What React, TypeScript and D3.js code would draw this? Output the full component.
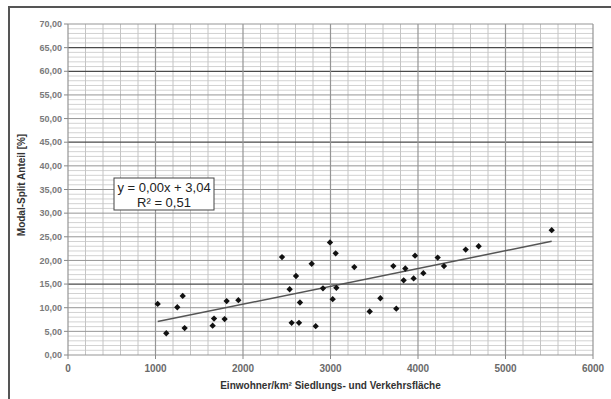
import React from 'react';
import * as d3 from 'd3';

// Einwohner/km² (x) vs Modal-Split Anteil in % (y)
const density = [
  1025, 1123, 1249, 1311, 1333, 1653, 1669, 1790, 1813, 1947,
  2446, 2533, 2556, 2606, 2640, 2651, 2785, 2831, 2914, 2994,
  3025, 3059, 3067, 3272, 3448, 3570, 3718, 3752, 3836, 3855,
  3950, 3966, 4061, 4225, 4297, 4545, 4693, 5528,
];
const modalSplit = [
  10.8, 4.6, 10.1, 12.5, 5.7, 6.2, 7.7, 7.6, 11.4, 11.6,
  20.7, 13.9, 6.8, 16.7, 6.8, 11.1, 19.3, 6.1, 14.1, 23.8,
  11.8, 21.5, 14.2, 18.6, 9.2, 12.0, 18.8, 9.8, 15.8, 18.3,
  16.2, 21.0, 17.3, 20.6, 18.8, 22.3, 23.0, 26.4,
];

const xTicks = [0, 1000, 2000, 3000, 4000, 5000, 6000];
const yTicks = [0, 5, 10, 15, 20, 25, 30, 35, 40, 45, 50, 55, 60, 65, 70];
const yStrong = [15, 45, 60, 65];
const equationLines = ['y = 0,00x + 3,04', 'R² = 0,51'];
const xTitle = 'Einwohner/km² Siedlungs- und Verkehrsfläche';
const yTitle = 'Modal-Split Anteil [%]';

const W = 611;
const H = 399;
const plot = { left: 68, right: 593, top: 24, bottom: 355 };

export default function App() {
  const x = d3.scaleLinear().domain([0, 6000]).range([plot.left, plot.right]);
  const y = d3.scaleLinear().domain([0, 70]).range([plot.bottom, plot.top]);

  const points = density.map((d, i) => ({ x: d, y: modalSplit[i] }));

  // linear regression for the trend line
  const mx = d3.mean(points, p => p.x)!;
  const my = d3.mean(points, p => p.y)!;
  const sxy = d3.sum(points, p => (p.x - mx) * (p.y - my));
  const sxx = d3.sum(points, p => (p.x - mx) ** 2);
  const slope = sxy / sxx;
  const intercept = my - slope * mx;
  const [x0, x1] = d3.extent(density) as [number, number];
  const trend = d3.line<number>().x(v => x(v)).y(v => y(intercept + slope * v));

  // excel-like diamond: a square turned by 45deg
  const marker = d3.symbol().type(d3.symbolSquare).size(20)()!;
  const fmtY = (v: number) => d3.format('.2f')(v).replace('.', ',');

  const minorX = d3.range(0, 6001, 200).filter(v => v % 1000 !== 0);
  const minorY = d3.range(0, 71, 1).filter(v => v % 5 !== 0);

  return (
    <svg width={W} height={H} style={{ position: 'absolute', left: 0, top: 0, background: '#fff' }}
      fontFamily="Arial, 'Liberation Sans', sans-serif">
      {/* frame */}
      <path d={`M9,${H} V7 H${W}`} fill="none" stroke="#555" strokeWidth={2} />

      {/* minor grid */}
      {minorY.map(v => (
        <line key={'my' + v} x1={plot.left} x2={plot.right} y1={y(v)} y2={y(v)} stroke="#d2d2d2" strokeWidth={1} />
      ))}
      {minorX.map(v => (
        <line key={'mx' + v} x1={x(v)} x2={x(v)} y1={plot.top} y2={plot.bottom} stroke="#c4c4c4" strokeWidth={1} />
      ))}
      {/* major grid */}
      {yTicks.map(v => (
        <line key={'gy' + v} x1={plot.left} x2={plot.right} y1={y(v)} y2={y(v)}
          stroke={yStrong.includes(v) ? '#4a4a4a' : '#959595'} strokeWidth={yStrong.includes(v) ? 1.3 : 1} />
      ))}
      {xTicks.map(v => (
        <line key={'gx' + v} x1={x(v)} x2={x(v)} y1={plot.top} y2={plot.bottom} stroke="#959595" strokeWidth={1.2} />
      ))}

      {/* axis ticks + labels */}
      {yTicks.map(v => (
        <g key={'ty' + v}>
          <line x1={plot.left - 4} x2={plot.left} y1={y(v)} y2={y(v)} stroke="#888" />
          <text x={plot.left - 6} y={y(v)} dy="0.35em" textAnchor="end" fontSize={9} fontWeight="bold" fill="#7a7a7a">
            {fmtY(v)}
          </text>
        </g>
      ))}
      {xTicks.map(v => (
        <g key={'tx' + v}>
          <line x1={x(v)} x2={x(v)} y1={plot.bottom} y2={plot.bottom + 4} stroke="#888" />
          <text x={x(v)} y={372} textAnchor="middle" fontSize={10} fontWeight="bold" fill="#6a6a6a">
            {v}
          </text>
        </g>
      ))}

      {/* trend line */}
      <path d={trend([x0, x1])!} fill="none" stroke="#555" strokeWidth={1.5} />

      {/* points */}
      {points.map((p, i) => (
        <path key={i} d={marker} transform={`translate(${x(p.x)},${y(p.y)}) rotate(45)`} fill="#111" />
      ))}

      {/* equation box */}
      <rect x={114} y={178} width={100} height={32} fill="#fff" stroke="#444" strokeWidth={1} />
      {equationLines.map((t, i) => (
        <text key={t} x={164} y={192 + i * 15} textAnchor="middle" fontSize={13} fill="#222">{t}</text>
      ))}

      {/* axis titles */}
      <text x={(plot.left + plot.right) / 2} y={389} textAnchor="middle" fontSize={10} fontWeight="bold" fill="#333">
        {xTitle}
      </text>
      <text transform={`translate(25,185) rotate(-90)`} textAnchor="middle" fontSize={10} fontWeight="bold" fill="#333">
        {yTitle}
      </text>
    </svg>
  );
}
